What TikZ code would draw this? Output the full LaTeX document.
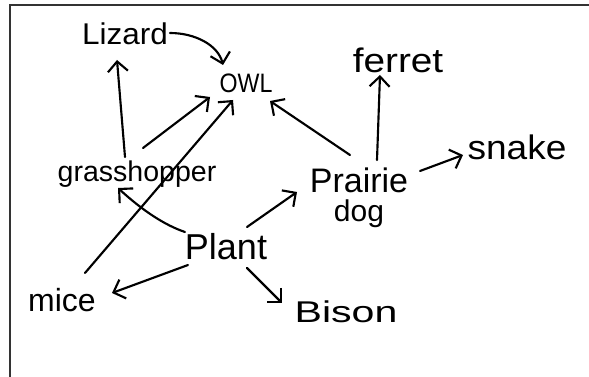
\documentclass[tikz,border=0pt]{standalone}
\usepackage{fontspec}
\setmainfont{Liberation Sans}
\usetikzlibrary{arrows.meta,calc}
\tikzset{
  lbl/.style={anchor=base, inner sep=0pt, text=black},
  arr/.style={-{Straight Barb[length=7.5pt,width=15pt,line width=1.6pt]}, line width=1.6pt, line cap=round, line join=round, black},
  frame/.style={line width=1.5pt, black!80}
}
\newcommand{\fsz}[1]{\fontsize{#1}{#1}\selectfont}
\begin{document}
\begin{tikzpicture}[x=0.75pt, y=-0.75pt]
\useasboundingbox (0,0) rectangle (589,377);
\fill[white] (0,0) rectangle (589,377);
\draw[frame] (10,377) -- (10,5) -- (589,5);

\node[lbl] (liz) at (125,45) {\fsz{22.5pt}\scalebox{1.05}[1]{Lizard}};
\node[lbl] (owl) at (246,93) {\fsz{20pt}\scalebox{0.87}[1]{OWL}};
\node[lbl] (fer) at (398,73) {\fsz{25.5pt}\scalebox{1.14}[1]{ferret}};
\node[lbl] (gh) at (137,182) {\fsz{21.4pt}grasshopper};
\node[lbl] (pd) at (359,193) {\vtop{\baselineskip=21.5pt\halign{\hfil#\hfil\cr \fsz{25.5pt}Prairie\cr \fsz{22.5pt}dog\cr}}};
\node[lbl] (snk) at (517,160) {\fsz{25.5pt}\scalebox{1.09}[1]{snake}};
\node[lbl] (plant) at (226,260) {\fsz{27pt}Plant};
\node[lbl] (mice) at (62,312) {\fsz{24pt}mice};
\node[lbl] (bison) at (346,323) {\fsz{22.5pt}\scalebox{1.37}[1]{Bison}};

\draw[arr] ($(liz.base)+(45,-12)$) .. controls +(25,0) and +(-5,-20) .. ($(owl.base)+(-23,-28)$);
\draw[arr] ($(gh.base)+(-12,-25)$) -- ($(liz.base)+(-8,15)$);
\draw[arr] ($(gh.base)+(6,-34)$) -- ($(owl.base)+(-36,4)$);
\draw[arr] ($(mice.base)+(23,-39)$) -- ($(owl.base)+(-13,7)$);
\draw[arr] ($(pd.base)+(-9,-38)$) -- ($(owl.base)+(24,8)$);
\draw[arr] ($(pd.base)+(18,-33)$) -- ($(fer.base)+(-18,2)$);
\draw[arr] ($(pd.base)+(61,-22)$) -- ($(snk.base)+(-54,-5)$);
\draw[arr] ($(plant.base)+(21,-33)$) -- ($(pd.base)+(-62,-1)$);
\draw[arr] ($(plant.base)+(-41,-28)$) .. controls +(-20,-6.7) and +(24.7,22.7) .. ($(gh.base)+(-19,6)$);
\draw[arr] ($(plant.base)+(-38,5)$) -- ($(mice.base)+(50,-19)$);
\draw[arr] ($(plant.base)+(21,8)$) -- ($(bison.base)+(-64,-20)$);
\end{tikzpicture}
\end{document}
